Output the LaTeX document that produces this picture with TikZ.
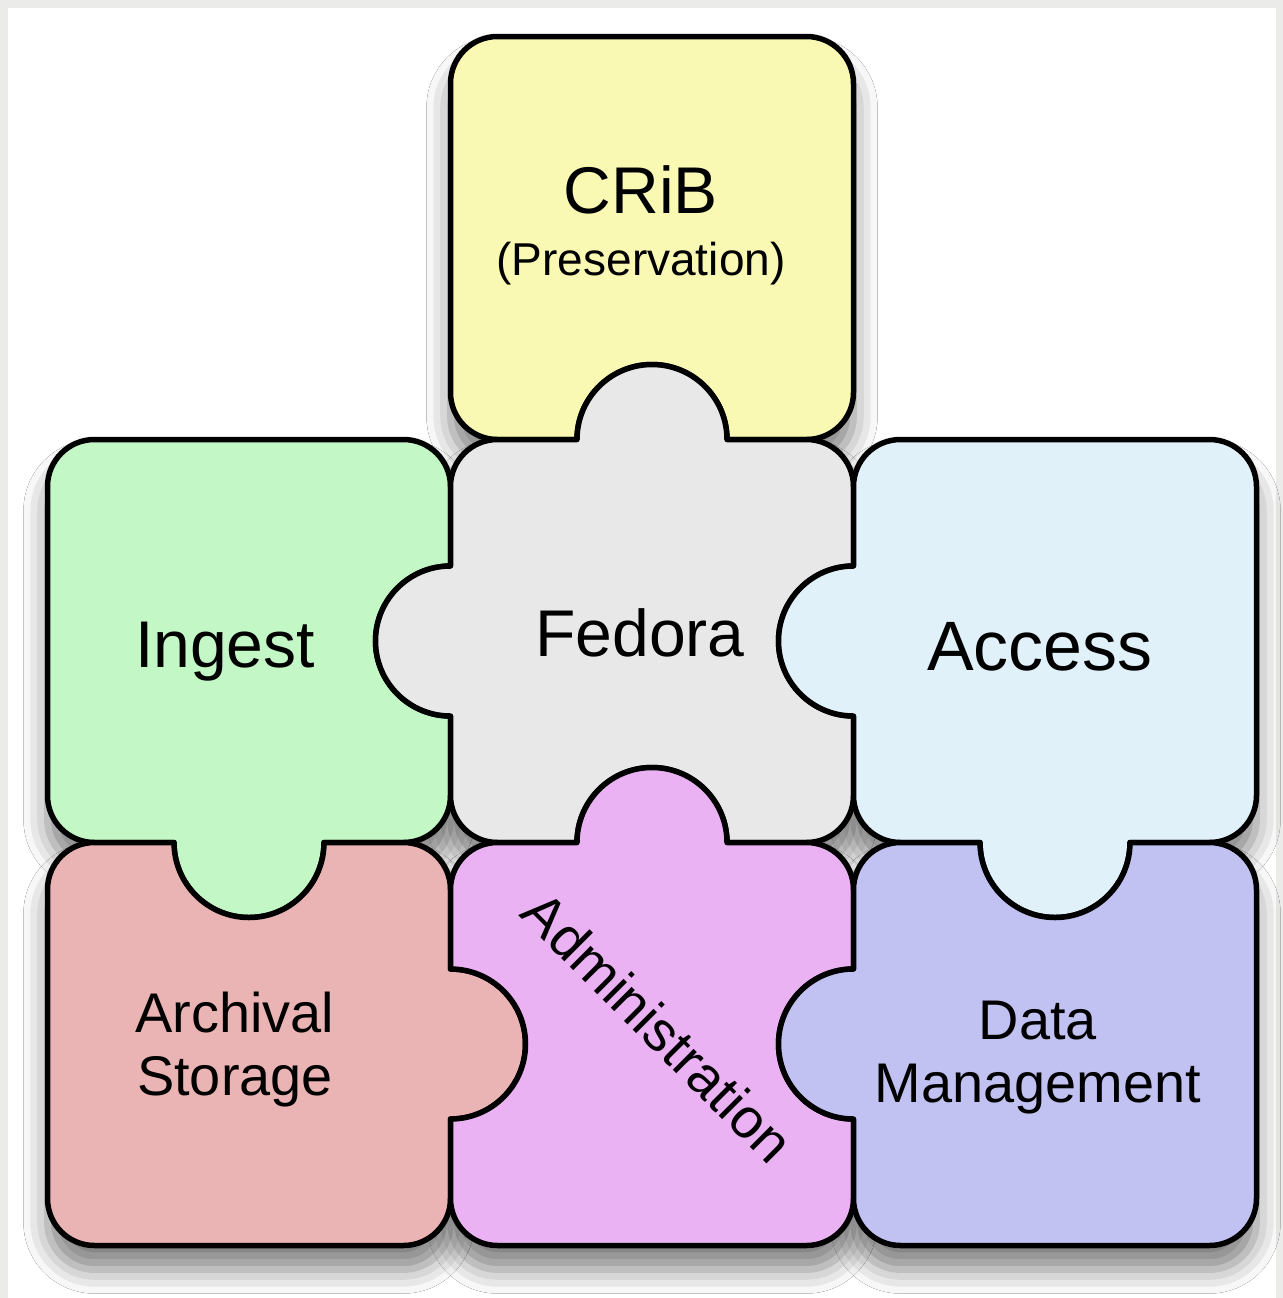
\documentclass[tikz,border=0pt]{standalone}
\usepackage{fontspec}
\setmainfont{Liberation Sans}
\usetikzlibrary{shadows.blur}
\definecolor{cribfill}{HTML}{F9F9B4}
\definecolor{ingestfill}{HTML}{C3F7C6}
\definecolor{fedorafill}{HTML}{E8E8E8}
\definecolor{accessfill}{HTML}{E1F1F9}
\definecolor{archfill}{HTML}{EBB4B4}
\definecolor{adminfill}{HTML}{EAB2F2}
\definecolor{datafill}{HTML}{C1C1F2}
\definecolor{framegray}{HTML}{EBEBEA}
\def\pzh{2.015} % half side
\def\pzr{0.47}  % corner radius
\def\pzt{0.75}  % knob radius
% outline of one piece; sides N E S W: 1 knob out, -1 knob in, 0 flat
\newcommand\pzpiece[4]{%
  (-\pzh+\pzr,\pzh) -- (-\pzt,\pzh) arc[start angle=180, delta angle=-180*#1, radius=\pzt]
  -- (\pzh-\pzr,\pzh) arc[start angle=90, end angle=0, radius=\pzr]
  -- (\pzh,\pzt) arc[start angle=90, delta angle=-180*#2, radius=\pzt]
  -- (\pzh,-\pzh+\pzr) arc[start angle=0, end angle=-90, radius=\pzr]
  -- (\pzt,-\pzh) arc[start angle=0, delta angle=-180*#3, radius=\pzt]
  -- (-\pzh+\pzr,-\pzh) arc[start angle=270, end angle=180, radius=\pzr]
  -- (-\pzh,-\pzt) arc[start angle=-90, delta angle=-180*#4, radius=\pzt]
  -- (-\pzh,\pzh-\pzr) arc[start angle=180, end angle=90, radius=\pzr]
  -- cycle}
\tikzset{
  tile/.style     = {draw, line width=0.55mm, line join=round},
  pzshadow/.style = {blur shadow={shadow xshift=0mm, shadow yshift=-2.4mm, shadow blur radius=2.4mm, shadow opacity=50}},
  big/.style      = {anchor=base, font=\fontsize{18.8}{22}\selectfont},
  sub/.style      = {anchor=base, font=\fontsize{13.1}{15}\selectfont},
  two/.style      = {anchor=base, align=center, font=\fontsize{15.9}{17.9}\selectfont}
}

\begin{document}
\begin{tikzpicture}
  \useasboundingbox (0,0) rectangle (12.83,-12.98);
  \fill[framegray] (0,0) rectangle (12.83,-12.98);
  \fill[white] (0.08,-0.08) rectangle (12.76,-12.98);

  % shadows first
  \path[pzshadow, shift={(6.52,-2.38)}]  \pzpiece{0}{0}{-1}{0};
  \path[pzshadow, shift={(2.49,-6.41)}]  \pzpiece{0}{-1}{1}{0};
  \path[pzshadow, shift={(6.52,-6.41)}]  \pzpiece{1}{-1}{-1}{1};
  \path[pzshadow, shift={(10.55,-6.41)}] \pzpiece{0}{0}{1}{1};
  \path[pzshadow, shift={(2.49,-10.44)}] \pzpiece{-1}{1}{0}{0};
  \path[pzshadow, shift={(6.52,-10.44)}] \pzpiece{1}{-1}{0}{-1};
  \path[pzshadow, shift={(10.55,-10.44)}]\pzpiece{-1}{0}{0}{1};

  \draw[tile, fill=cribfill,   shift={(6.52,-2.38)}]  \pzpiece{0}{0}{-1}{0};
  \draw[tile, fill=ingestfill, shift={(2.49,-6.41)}]  \pzpiece{0}{-1}{1}{0};
  \draw[tile, fill=fedorafill, shift={(6.52,-6.41)}]  \pzpiece{1}{-1}{-1}{1};
  \draw[tile, fill=accessfill, shift={(10.55,-6.41)}] \pzpiece{0}{0}{1}{1};
  \draw[tile, fill=archfill,   shift={(2.49,-10.44)}] \pzpiece{-1}{1}{0}{0};
  \draw[tile, fill=adminfill,  shift={(6.52,-10.44)}] \pzpiece{1}{-1}{0}{-1};
  \draw[tile, fill=datafill,   shift={(10.55,-10.44)}]\pzpiece{-1}{0}{0}{1};

  \node[big] (crib)   at (6.41,-2.13)  {CRiB};
  \node[sub] (pres)   at (6.41,-2.75)  {(Preservation)};
  \node[big] (ingest) at (2.25,-6.67)  {Ingest};
  \node[big] (fedora) at (6.40,-6.56)  {Fedora};
  \node[big, font=\fontsize{19.9}{23}\selectfont] (access) at (10.40,-6.70) {Access};
  \node[two] (arch)   at (2.35,-10.95) {Archival\\Storage};
  \node[two, rotate=-45] (admin) at (6.44,-10.41) {Administration};
  \node[two] (data)   at (10.38,-11.02) {Data\\Management};
\end{tikzpicture}
\end{document}
